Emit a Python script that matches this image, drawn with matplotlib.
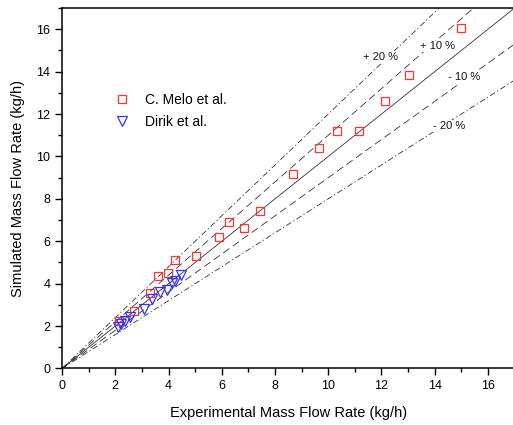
import matplotlib.pyplot as plt
import numpy as np
from matplotlib.ticker import MultipleLocator

plt.rcParams["font.family"] = ["Liberation Sans", "DejaVu Sans"]

# C. Melo et al. (experimental, simulated)
melo_exp = [2.14, 2.72, 3.31, 3.62, 3.97, 4.25, 5.04, 5.9, 6.28, 6.84, 7.44,
            8.68, 9.66, 10.34, 11.17, 12.14, 13.05, 15.0]
melo_sim = [2.25, 2.73, 3.58, 4.36, 4.49, 5.12, 5.31, 6.2, 6.91, 6.63, 7.43,
            9.17, 10.4, 11.2, 11.2, 12.62, 13.84, 16.06]

# Dirik et al.
dirik_exp = [2.09, 2.22, 2.37, 2.56, 3.09, 3.37, 3.68, 3.94, 4.12, 4.25, 4.47]
dirik_sim = [1.94, 2.1, 2.25, 2.44, 2.79, 3.26, 3.62, 3.7, 4.02, 4.13, 4.41]

# error band labels
band_text = ["+ 20 %", "+ 10 %", "- 10 %", "- 20 %"]
band_pos = [(11.95, 14.69), (14.1, 15.2), (15.11, 13.75), (14.55, 11.44)]

fig = plt.figure(figsize=(5.13, 4.25), dpi=100)
ax = fig.add_axes([0.121, 0.133, 0.882, 0.848])

xs = np.array([0, 17])
line_kw = dict(color="#333333", linewidth=0.6)
ax.plot(xs, xs, "-", **line_kw)
ax.plot(xs, 1.1 * xs, dashes=(9, 5), **line_kw)
ax.plot(xs, 0.9 * xs, dashes=(9, 5), **line_kw)
ax.plot(xs, 1.2 * xs, dashes=(7, 3, 1.5, 3), **line_kw)
ax.plot(xs, 0.8 * xs, dashes=(7, 3, 1.5, 3), **line_kw)

ax.plot(melo_exp, melo_sim, "s", markerfacecolor="none", markeredgecolor="#ff3333",
        markersize=5.5, markeredgewidth=0.9, linestyle="none", label="C. Melo et al.")
ax.plot(dirik_exp, dirik_sim, "v", markerfacecolor="none", markeredgecolor="#3333ff",
        markersize=6.5, markeredgewidth=0.9, linestyle="none", label="Dirik et al.")

for txt, (x, y) in zip(band_text, band_pos):
    ax.text(x, y, txt, fontsize=8, ha="center", va="center", color="#111111",
            bbox=dict(facecolor="white", edgecolor="none", pad=0.5))

ax.set_xlim(0, 17)
ax.set_ylim(0, 17)
ax.xaxis.set_major_locator(MultipleLocator(2))
ax.xaxis.set_minor_locator(MultipleLocator(1))
ax.yaxis.set_major_locator(MultipleLocator(2))
ax.yaxis.set_minor_locator(MultipleLocator(1))
ax.tick_params(which="major", direction="out", length=5, width=1, labelsize=9)
ax.tick_params(which="minor", direction="out", length=3, width=1)
ax.spines["right"].set_visible(False)
for s in ["left", "bottom", "top"]:
    ax.spines[s].set_linewidth(1.1)

ax.set_xlabel("Experimental Mass Flow Rate (kg/h)", fontsize=10.5, labelpad=10)
ax.set_ylabel("Simulated Mass Flow Rate (kg/h)", fontsize=10.5, labelpad=8)

ax.legend(loc="center left", bbox_to_anchor=(0.075, 0.715), frameon=False,
          fontsize=10, handletextpad=0.6, labelspacing=0.6)

fig.savefig("out.png", dpi=100)
